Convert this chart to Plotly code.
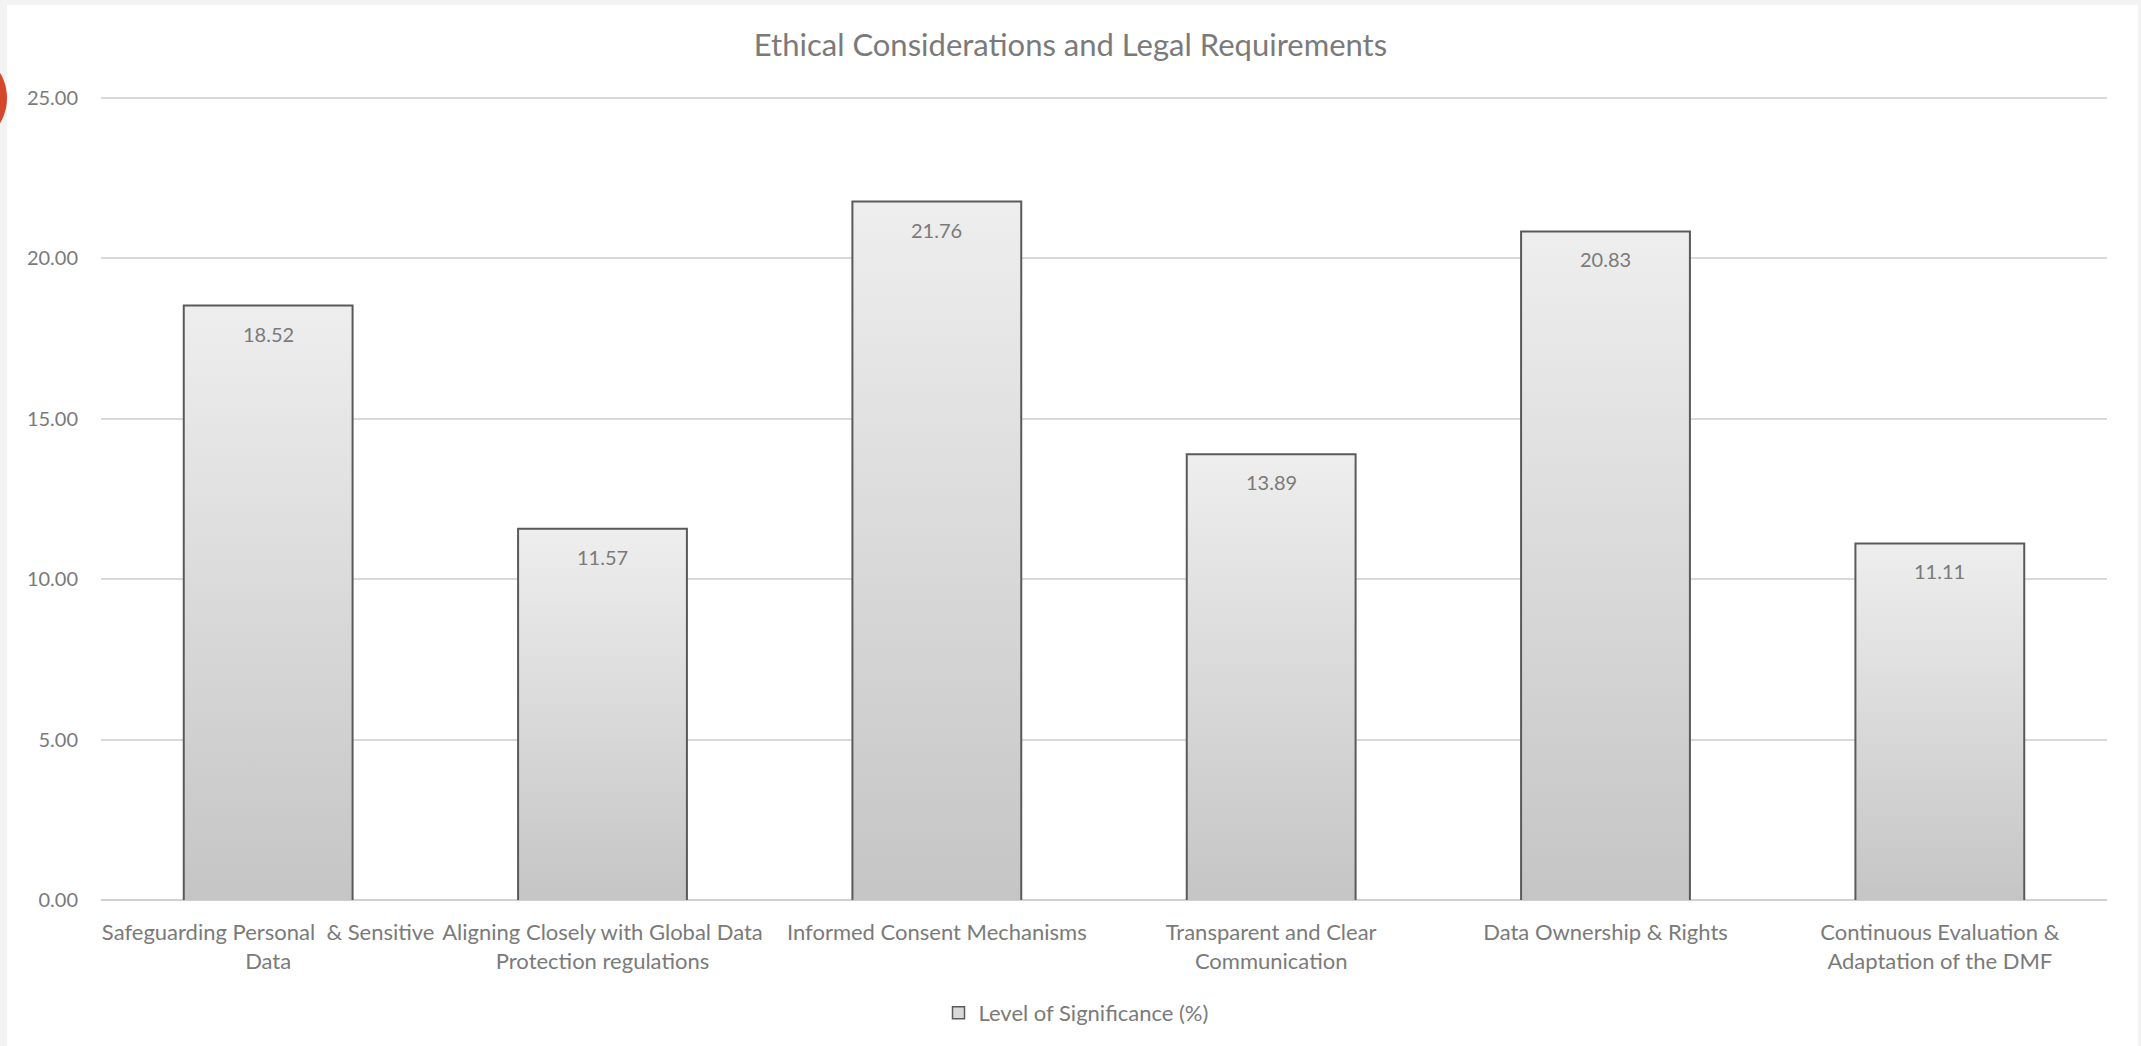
import plotly.graph_objects as go

categories = [
    "Safeguarding Personal  & Sensitive<br>Data",
    "Aligning Closely with Global Data<br>Protection regulations",
    "Informed Consent Mechanisms",
    "Transparent and Clear<br>Communication",
    "Data Ownership & Rights",
    "Continuous Evaluation &<br>Adaptation of the DMF",
]
values = [18.52, 11.57, 21.76, 13.89, 20.83, 11.11]
series_name = "Level of Significance (%)"
title_text = "Ethical Considerations and Legal Requirements"
y_ticks = [0, 5, 10, 15, 20, 25]

W, H = 2141, 1046
L, R, T, B = 101, 34, 96, 146
FONT = "Lato, 'Open Sans', sans-serif"
TXT = "#7a7a7a"
BAR_W = 0.505
hw = BAR_W / 2
Y_MAX = 25.05

fig = go.Figure()

for i, v in enumerate(values):
    fig.add_trace(go.Scatter(
        x=[i - hw, i - hw, i + hw, i + hw],
        y=[0, v, v, 0],
        mode="lines",
        fill="toself",
        fillgradient=dict(type="vertical",
                          colorscale=[[0, "#c5c5c5"], [1, "#eeeeee"]]),
        line=dict(color="#5a5a5a", width=2),
        hoverinfo="skip",
        showlegend=False,
    ))
    fig.add_annotation(
        x=i, y=v, text=f"{v:.2f}", showarrow=False,
        yshift=-28, font=dict(family=FONT, size=20, color=TXT),
    )

# legend entry
fig.add_trace(go.Bar(
    x=[None], y=[None], name=series_name,
    marker=dict(color="#d9d9d9", line=dict(color="#5a5a5a", width=1.5)),
))

pw = W - L - R
ph = H - T - B

def px_x(p):
    return (p - L) / pw

def px_y(p):
    return (H - B - p) / ph

fig.add_shape(type="circle", xref="paper", yref="paper", layer="below",
              x0=px_x(-90), x1=px_x(7), y0=px_y(147), y1=px_y(49),
              fillcolor="#d4472a", line=dict(width=0))
fig.add_shape(type="rect", xref="paper", yref="paper", layer="below",
              x0=px_x(7), x1=px_x(2138), y0=px_y(1046), y1=px_y(5),
              fillcolor="white", line=dict(width=0))

fig.update_layout(
    width=W, height=H,
    margin=dict(l=L, r=R, t=T, b=B),
    paper_bgcolor="#f3f3f3",
    plot_bgcolor="white",
    font=dict(family=FONT, size=20, color=TXT),
    title=dict(text=title_text, x=0.5, xref="container", xanchor="center",
               y=1 - 45 / H, yref="container", yanchor="middle",
               font=dict(family=FONT, size=31, color=TXT)),
    showlegend=True,
    legend=dict(orientation="h", x=px_x(1076), xanchor="center",
                y=px_y(1013), yanchor="middle",
                font=dict(family=FONT, size=22, color=TXT),
                bgcolor="rgba(0,0,0,0)"),
    xaxis=dict(
        range=[-0.5, len(values) - 0.5],
        tickvals=list(range(len(values))),
        ticktext=categories,
        showgrid=False, zeroline=False, showline=False,
        ticks="", ticklabelstandoff=17,
        tickfont=dict(family=FONT, size=22, color=TXT),
    ),
    yaxis=dict(
        range=[0, Y_MAX],
        tickvals=y_ticks,
        tickformat=".2f",
        showgrid=True, gridcolor="#d9d9d9", gridwidth=1.5,
        zeroline=True, zerolinecolor="#d0d0d0", zerolinewidth=2,
        showline=False, ticks="", ticklabelstandoff=22,
        tickfont=dict(family=FONT, size=20, color=TXT),
    ),
)

fig.write_html("out.html")
